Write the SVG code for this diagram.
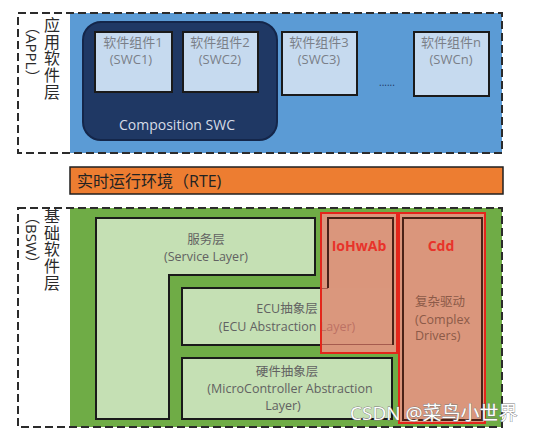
<svg xmlns="http://www.w3.org/2000/svg" width="537" height="433" viewBox="0 0 537 433">
<style>
text{font-family:"Open Sans","Noto Sans CJK SC",sans-serif}
.dash{fill:none;stroke:#2b2b2b;stroke-width:2;stroke-dasharray:8 4}
.swc{fill:#c6daef;stroke:#1a1a1a;stroke-width:2}
.swct{font-size:13px;fill:#7a7f88;text-anchor:middle}
.side{font-size:16px;fill:#2a2a2a;writing-mode:vertical-rl;letter-spacing:0.7px}
.sidep{font-size:15px;fill:#2a2a2a;writing-mode:vertical-rl}
.layer{fill:#c5e0b4;stroke:#1a1a1a;stroke-width:2}
.lt{font-size:12.5px;fill:#626262;text-anchor:middle}
.red{fill:#da967c;stroke:#e3261b;stroke-width:2}
.dark{fill:none;stroke:#4a2217;stroke-width:2}
.rl{font-size:14px;font-weight:bold;fill:#e8332a;text-anchor:middle}
.cd{font-size:12.5px;fill:#8c5a48}
</style>
<rect width="537" height="433" fill="#ffffff"/>

<g id="appl-layer">
<rect x="70" y="13" width="432" height="140" fill="#5b9bd5"/>
<rect class="dash" x="18" y="13" width="484" height="140"/>
<text class="side" x="51" y="17">应用软件层</text>
<text class="sidep" x="32" y="19">（APPL）</text>
</g>

<g id="composition-swc">
<rect x="83" y="22" width="194" height="118" rx="18" fill="#1f3864" stroke="#14264a" stroke-width="2"/>
<text x="177" y="130" style="font-size:14px;fill:#d6dce6;text-anchor:middle">Composition SWC</text>
</g>

<g id="swc1">
<rect class="swc" x="95" y="32" width="77" height="60"/>
<text class="swct"><tspan x="133" y="46.5">软件组件1</tspan><tspan x="131" y="64">(SWC1)</tspan></text>
</g>
<g id="swc2">
<rect class="swc" x="183" y="32" width="75" height="60"/>
<text class="swct"><tspan x="220" y="46.5">软件组件2</tspan><tspan x="220" y="64">(SWC2)</tspan></text>
</g>
<g id="swc3">
<rect class="swc" x="282" y="32" width="75" height="63"/>
<text class="swct"><tspan x="319" y="46.5">软件组件3</tspan><tspan x="319" y="64">(SWC3)</tspan></text>
</g>
<g id="ellipsis">
<text x="387" y="86" style="font-size:10px;fill:#1f3864;text-anchor:middle">......</text>
</g>
<g id="swcn">
<rect class="swc" x="414" y="32" width="75" height="64"/>
<text class="swct"><tspan x="451" y="46.5">软件组件n</tspan><tspan x="451" y="64">(SWCn)</tspan></text>
</g>

<g id="rte">
<rect x="70" y="167" width="433" height="27" fill="#ed7d31" stroke="#1f1f1f" stroke-width="1.5"/>
<text x="77" y="187" style="font-size:16px;fill:#222">实时运行环境（RTE)</text>
</g>

<g id="bsw-layer">
<rect x="70" y="208" width="432" height="219" fill="#6fac46"/>
<rect class="dash" x="18" y="208" width="484" height="219"/>
<text class="side" x="51" y="208">基础软件层</text>
<text class="sidep" x="32" y="209">（BSW）</text>
</g>

<g id="service-layer">
<polygon class="layer" points="96,218 315,218 315,275 169,275 169,419 96,419"/>
<text class="lt"><tspan x="206" y="243.5">服务层</tspan><tspan x="206" y="261">(Service Layer)</tspan></text>
</g>

<g id="ecu-abstraction">
<rect x="182" y="288" width="211" height="57" fill="#c5e0b4"/>
<path d="M328,288 H182 V345 H393" fill="none" stroke="#1a1a1a" stroke-width="2"/>
<text class="lt"><tspan x="287" y="312.5">ECU抽象层</tspan><tspan x="287" y="330.5">(ECU Abstraction Layer)</tspan></text>
</g>

<g id="mcal">
<rect class="layer" x="182" y="358" width="210" height="61"/>
<text class="lt"><tspan x="287" y="375.5">硬件抽象层</tspan><tspan x="290" y="393">(MicroController Abstraction</tspan><tspan x="283" y="409.5">Layer)</tspan></text>
</g>

<g id="iohwab">
<path d="M321,213 H397 V353 H321 Z M321,288 V345 H393 V288 Z" fill="#da967c" fill-rule="evenodd"/>
<rect x="321" y="288" width="72" height="57" fill="#e27765" fill-opacity="0.7"/>
<rect x="321" y="213" width="76" height="140" fill="none" stroke="#e3261b" stroke-width="2"/>
<path class="dark" d="M328,288 V218 H393 V345"/>
<text class="rl" x="359" y="251">IoHwAb</text>
</g>

<g id="cdd">
<rect class="red" x="399" y="213" width="86" height="210"/>
<rect class="dark" x="403" y="218" width="79" height="202"/>
<text class="rl" x="441" y="251">Cdd</text>
<text class="cd"><tspan x="415" y="306">复杂驱动</tspan><tspan x="415" y="323.5">(Complex</tspan><tspan x="415" y="340">Drivers)</tspan></text>
</g>

<g id="connectors"></g>

<g id="watermark">
<text x="350" y="420" style="font-size:19px;fill:#ffffff;stroke:#7a7a7a;stroke-width:0.8;paint-order:stroke">CSDN @菜鸟小世界</text>
</g>
</svg>
